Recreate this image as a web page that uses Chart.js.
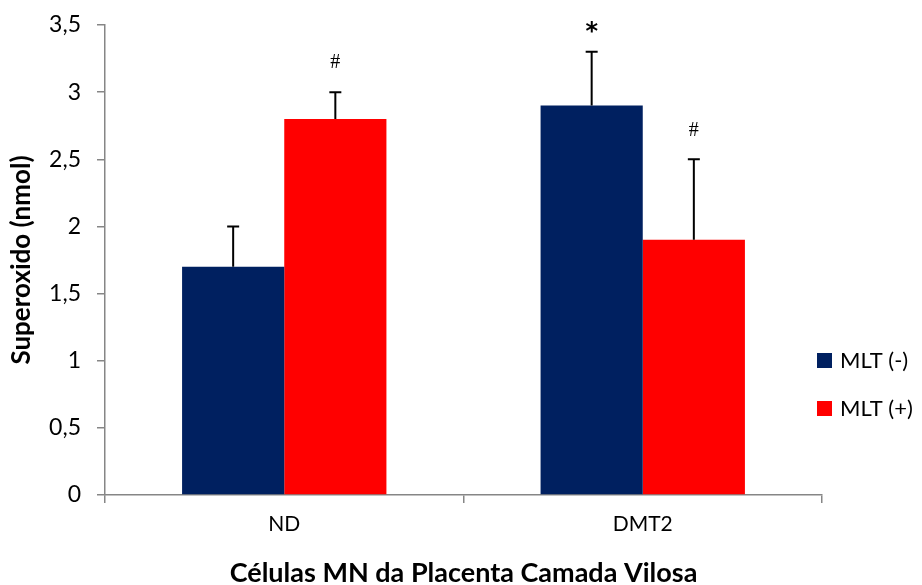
<!DOCTYPE html>
<html>
<head>
<meta charset="utf-8">
<script src="https://cdn.jsdelivr.net/npm/chart.js@4.4.1/dist/chart.umd.min.js"></script>
<style>
  html, body { margin: 0; padding: 0; background: #fff; }
  #wrap { width: 922px; height: 585px; }
</style>
</head>
<body>
<div id="wrap"><canvas id="superoxidoChart" width="922" height="585"></canvas></div>
<script>
// Données
const categories = ['ND', 'DMT2'];
const seriesLabels = ['MLT (-)', 'MLT (+)'];
const mltMinus = [1.7, 2.9];
const mltPlus = [2.8, 1.9];
const errMinus = [0.3, 0.4];
const errPlus = [0.2, 0.6];
const marksMinus = ['', '*'];
const marksPlus = ['#', '#'];
const yTicks = [0, 0.5, 1, 1.5, 2, 2.5, 3, 3.5];

const errors = [errMinus, errPlus];
const marks = [marksMinus, marksPlus];
const axisGrey = '#868686';

// Barres d'erreur (côté haut seulement) + symboles
const errorBarPlugin = {
    id: 'errorBars',
    afterDatasetsDraw(chart) {
        const ctx = chart.ctx;
        const yScale = chart.scales.y;
        ctx.save();
        chart.data.datasets.forEach((ds, di) => {
            const meta = chart.getDatasetMeta(di);
            meta.data.forEach((bar, i) => {
                const top = yScale.getPixelForValue(ds.data[i] + errors[di][i]);
                ctx.strokeStyle = '#000';
                ctx.lineWidth = 2;
                ctx.beginPath();
                ctx.moveTo(bar.x, bar.y);
                ctx.lineTo(bar.x, top);
                ctx.moveTo(bar.x - 6, top);
                ctx.lineTo(bar.x + 6, top);
                ctx.stroke();
                const m = marks[di][i];
                if (m) {
                    ctx.fillStyle = '#000';
                    ctx.textAlign = 'center';
                    ctx.textBaseline = 'middle';
                    ctx.font = m === '*' ? 'bold 24px "DejaVu Sans"' : '20px "Liberation Serif"';
                    ctx.fillText(m, bar.x, top - (m === '*' ? 19 : 29));
                }
            });
        });
        ctx.restore();
    }
};

// Légende à droite
const legendPlugin = {
    id: 'sideLegend',
    afterDraw(chart) {
        const ctx = chart.ctx;
        ctx.save();
        chart.data.datasets.forEach((ds, di) => {
            const cy = 360 + di * 48;
            ctx.fillStyle = ds.backgroundColor;
            ctx.fillRect(817, cy - 7, 15, 15);
            ctx.fillStyle = '#000';
            ctx.font = '22px Lato';
            ctx.textAlign = 'left';
            ctx.textBaseline = 'middle';
            ctx.fillText(ds.label, 840, cy + 1);
        });
        ctx.restore();
    }
};

new Chart(document.getElementById('superoxidoChart').getContext('2d'), {
    type: 'bar',
    data: {
        labels: categories,
        datasets: [
            { label: seriesLabels[0], data: mltMinus, backgroundColor: '#002060' },
            { label: seriesLabels[1], data: mltPlus, backgroundColor: '#FF0000' }
        ]
    },
    options: {
        responsive: false,
        animation: false,
        layout: { padding: { top: 25, right: 100, left: 0, bottom: 0 } },
        categoryPercentage: 0.57,
        barPercentage: 1,
        scales: {
            x: {
                grid: { drawOnChartArea: false, drawTicks: true, tickLength: 8, color: axisGrey, lineWidth: 1.5 },
                border: { color: axisGrey, width: 1.5 },
                ticks: { color: '#000', font: { family: 'Lato', size: 21 }, padding: 9 },
                title: {
                    display: true,
                    text: 'Células MN da Placenta Camada Vilosa',
                    color: '#000',
                    font: { family: 'Lato', size: 27, weight: 'bold', lineHeight: '24px' },
                    padding: { top: 0, bottom: 0 }
                },
                afterFit(scale) { scale.height = 90; scale.paddingLeft = 0; scale.paddingRight = 0; }
            },
            y: {
                min: 0,
                max: 3.5,
                afterBuildTicks(scale) { scale.ticks = yTicks.map(v => ({ value: v })); },
                grid: { drawOnChartArea: false, drawTicks: true, tickLength: 8, color: axisGrey, lineWidth: 1.5 },
                border: { color: axisGrey, width: 1.5 },
                ticks: {
                    color: '#000',
                    font: { family: 'Lato', size: 23 },
                    padding: 16,
                    callback: v => String(v).replace('.', ',')
                },
                title: {
                    display: true,
                    text: 'Superoxido (nmol)',
                    color: '#000',
                    font: { family: 'Lato', size: 26, weight: 'bold', lineHeight: '44px' },
                    padding: 0
                },
                afterFit(scale) { scale.width = 105; scale.paddingTop = 0; scale.paddingBottom = 0; }
            }
        },
        plugins: {
            legend: { display: false },
            tooltip: { enabled: false }
        }
    },
    plugins: [errorBarPlugin, legendPlugin]
});
</script>
</body>
</html>
